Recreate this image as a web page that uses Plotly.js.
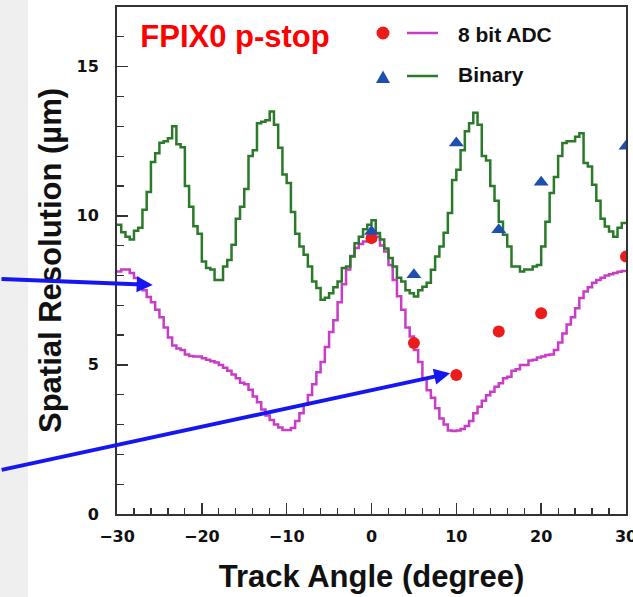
<!DOCTYPE html>
<html>
<head>
<meta charset="utf-8">
<script src="https://cdn.plot.ly/plotly-3.0.1.min.js"></script>
<style>
  html, body { margin: 0; padding: 0; background: #ffffff; }
  #wrap { position: relative; width: 633px; height: 597px; overflow: hidden; }
  #strip { position: absolute; left: 0; top: 0; width: 28px; height: 597px; background: #efefef; }
  #chart { position: absolute; left: 0; top: 0; width: 633px; height: 597px; }
</style>
</head>
<body>
<div id="wrap"><div id="strip"></div><div id="chart"></div></div>
<script>
// ---- data ----
const binStart = -30;
const binWidth = 0.5;

// Binary (green histogram), 120 bins of 0.5 degree from -30 to 30
const binaryHist = [
  9.7, 9.45, 9.3, 9.2, 9.5, 9.6, 10.2, 10.8, 11.8, 12.1,
  12.45, 12.5, 12.6, 13.0, 12.4, 12.3, 11.0, 10.3, 9.65, 9.4,
  8.47, 8.25, 8.2, 7.85, 7.85, 8.3, 8.52, 9.03, 9.9, 10.3,
  10.9, 12.0, 12.2, 13.1, 13.15, 13.2, 13.5, 13.05, 12.28, 11.38,
  11.1, 10.13, 9.4, 8.97, 8.69, 8.3, 7.8, 7.58, 7.18, 7.25,
  7.4, 7.6, 7.8, 8.25, 8.3, 8.63, 9.08, 9.3, 9.55, 9.7,
  9.85, 9.42, 9.2, 8.9, 8.58, 8.3, 7.92, 7.8, 7.5, 7.4,
  7.29, 7.5, 7.62, 7.75, 8.19, 8.63, 8.97, 9.43, 10.09, 11.2,
  11.54, 12.2, 12.83, 13.1, 13.45, 13.05, 12.0, 11.85, 11.0, 10.5,
  9.8, 9.36, 8.97, 8.3, 8.3, 8.13, 8.2, 8.2, 8.3, 8.35,
  8.97, 9.8, 10.76, 11.3, 12.0, 12.44, 12.5, 12.5, 12.65, 12.77,
  11.77, 11.65, 11.04, 10.5, 9.9, 9.64, 9.47, 9.3, 9.6, 9.76
];

// 8 bit ADC (magenta histogram), 120 bins
const adcHist = [
  8.13, 8.2, 8.2, 8.08, 7.91, 7.74, 7.5, 7.28, 7.1, 6.85,
  6.6, 6.25, 5.92, 5.65, 5.55, 5.5, 5.35, 5.3, 5.28, 5.28,
  5.22, 5.17, 5.12, 5.08, 5.0, 4.9, 4.8, 4.68, 4.55, 4.4,
  4.35, 4.17, 3.94, 3.75, 3.5, 3.3, 3.15, 3.0, 2.9, 2.82,
  2.82, 2.88, 3.12, 3.38, 3.66, 3.99, 4.35, 4.75, 5.1, 5.6,
  6.1, 6.5, 7.1, 7.7, 8.2, 8.65, 8.92, 9.05, 9.14, 9.25,
  9.3, 9.3, 9.0, 8.8, 8.35, 7.85, 7.3, 6.85, 6.25, 5.95,
  5.5, 5.1, 4.55, 4.15, 3.9, 3.55, 3.2, 3.0, 2.8, 2.78,
  2.8, 2.85, 2.95, 3.12, 3.38, 3.6, 3.8, 3.98, 4.1, 4.27,
  4.38, 4.55, 4.6, 4.8, 4.85, 5.0, 5.0, 5.15, 5.17, 5.25,
  5.28, 5.33, 5.35, 5.5, 5.75, 6.05, 6.35, 6.6, 6.9, 7.24,
  7.46, 7.6, 7.75, 7.85, 7.92, 8.0, 8.04, 8.08, 8.12, 8.15
];

// measured points
const adcAngles = [0, 5, 10, 15, 20, 30];
const adcRes    = [9.25, 5.73, 4.66, 6.12, 6.73, 8.63];
const binAngles = [0, 5, 10, 15, 20, 30];
const binRes    = [9.47, 8.02, 12.44, 9.53, 11.12, 12.33];

const xTickVals = [-30, -20, -10, 0, 10, 20, 30];
const yTickVals = [0, 5, 10, 15];

const titleText = 'FPIX0 p-stop';
const seriesNames = ['8 bit ADC', 'Binary'];
const xTitle = 'Track Angle (degree)';
const yTitle = 'Spatial Resolution (\u00b5m)';

// ---- build step traces ----
function edges(n) {
  const e = [];
  for (let i = 0; i <= n; i++) e.push(binStart + i * binWidth);
  return e;
}
function stepY(vals) { return vals.concat([vals[vals.length - 1]]); }

const cMagenta = '#c83cc8';
const cGreen = '#2a7a2a';
const cRed = '#ec1c1c';
const cBlue = '#1f4fae';
const cArrow = '#1616f2';

const traces = [
  { x: edges(adcHist.length), y: stepY(adcHist), type: 'scatter', mode: 'lines',
    line: { shape: 'hv', color: cMagenta, width: 2.5 }, name: seriesNames[0], showlegend: false },
  { x: edges(binaryHist.length), y: stepY(binaryHist), type: 'scatter', mode: 'lines',
    line: { shape: 'hv', color: cGreen, width: 2.5 }, name: seriesNames[1], showlegend: false },
  { x: adcAngles, y: adcRes, type: 'scatter', mode: 'markers',
    marker: { symbol: 'circle', size: 12, color: cRed }, showlegend: false },
  { x: binAngles, y: binRes, type: 'scatter', mode: 'markers',
    marker: { symbol: 'triangle-up', size: 13, color: cBlue }, showlegend: false }
];

// ---- layout helpers (pixel -> paper) ----
const W = 633, H = 597, ML = 117, MR = 7, MT = 7, MB = 83;
const PW = W - ML - MR, PH = H - MT - MB;
const px = v => (v - ML) / PW;
const py = v => (H - MB - v) / PH;

const axisFont = { family: 'DejaVu Sans, Liberation Sans, sans-serif', size: 16, color: '#111', weight: 'bold' };
const titleFont = { family: 'Liberation Sans, Arial, sans-serif', size: 31, color: '#111', weight: 'bold' };

const layout = {
  width: W, height: H,
  margin: { l: ML, r: MR, t: MT, b: MB },
  paper_bgcolor: 'rgba(0,0,0,0)',
  plot_bgcolor: 'rgba(0,0,0,0)',
  showlegend: false,
  title: {
    text: titleText,
    font: { family: 'Liberation Sans, Arial, sans-serif', size: 31, color: '#ff0000', weight: 'bold' },
    x: 235 / W, xanchor: 'center', y: 1 - 36 / H, yanchor: 'middle'
  },
  xaxis: {
    range: [-30, 30], tickmode: 'array', tickvals: xTickVals,
    ticks: 'inside', ticklen: 11, tickwidth: 1.5, tickcolor: '#333',
    minor: { ticks: 'inside', ticklen: 6, dtick: 2, tick0: -30, tickwidth: 1.2, tickcolor: '#333', showgrid: false },
    showline: true, linewidth: 2, linecolor: '#333', mirror: true,
    showgrid: false, zeroline: false,
    tickfont: axisFont, ticklabelstandoff: 7, ticklabeloverflow: 'allow',
    title: { text: xTitle, font: titleFont, standoff: 20 }
  },
  yaxis: {
    range: [0, 17], tickmode: 'array', tickvals: yTickVals,
    ticks: 'inside', ticklen: 11, tickwidth: 1.5, tickcolor: '#333',
    minor: { ticks: 'inside', ticklen: 7, dtick: 1, tick0: 0, tickwidth: 1.2, tickcolor: '#333', showgrid: false },
    showline: true, linewidth: 2, linecolor: '#333', mirror: true,
    showgrid: false, zeroline: false,
    tickfont: axisFont, ticklabelstandoff: 13, ticklabeloverflow: 'allow',
    title: { text: yTitle, font: titleFont, standoff: 6 }
  },
  shapes: [
    { type: 'circle', xref: 'paper', yref: 'paper',
      x0: px(383 - 6.5), x1: px(383 + 6.5), y0: py(33 + 6.5), y1: py(33 - 6.5),
      fillcolor: cRed, line: { width: 0 } },
    { type: 'line', xref: 'paper', yref: 'paper',
      x0: px(407), x1: px(438), y0: py(33), y1: py(33),
      line: { color: cMagenta, width: 2.5 } },
    { type: 'path', xref: 'paper', yref: 'paper',
      path: 'M ' + px(383) + ' ' + py(70.5) + ' L ' + px(390) + ' ' + py(83) + ' L ' + px(376) + ' ' + py(83) + ' Z',
      fillcolor: cBlue, line: { width: 0 } },
    { type: 'line', xref: 'paper', yref: 'paper',
      x0: px(407), x1: px(438), y0: py(76), y1: py(76),
      line: { color: cGreen, width: 2.5 } }
  ],
  annotations: [
    { text: seriesNames[0], xref: 'paper', yref: 'paper', x: px(456), y: py(35),
      xanchor: 'left', yanchor: 'middle', showarrow: false,
      font: { family: 'Liberation Sans, Arial, sans-serif', size: 21, color: '#111', weight: 'bold' } },
    { text: seriesNames[1], xref: 'paper', yref: 'paper', x: px(456), y: py(74),
      xanchor: 'left', yanchor: 'middle', showarrow: false,
      font: { family: 'Liberation Sans, Arial, sans-serif', size: 21, color: '#111', weight: 'bold' } },
    { text: '', xref: 'x', yref: 'y', x: -25.79, y: 7.68, ax: -153, ay: -6,
      showarrow: true, arrowhead: 2, arrowsize: 0.8, arrowwidth: 4, arrowcolor: cArrow, standoff: 0 },
    { text: '', xref: 'x', yref: 'y', x: 9.27, y: 4.72, ax: -450, ay: 97,
      showarrow: true, arrowhead: 2, arrowsize: 0.8, arrowwidth: 4, arrowcolor: cArrow, standoff: 0 }
  ]
};

Plotly.newPlot('chart', traces, layout, { displayModeBar: false, staticPlot: true });
</script>
</body>
</html>
